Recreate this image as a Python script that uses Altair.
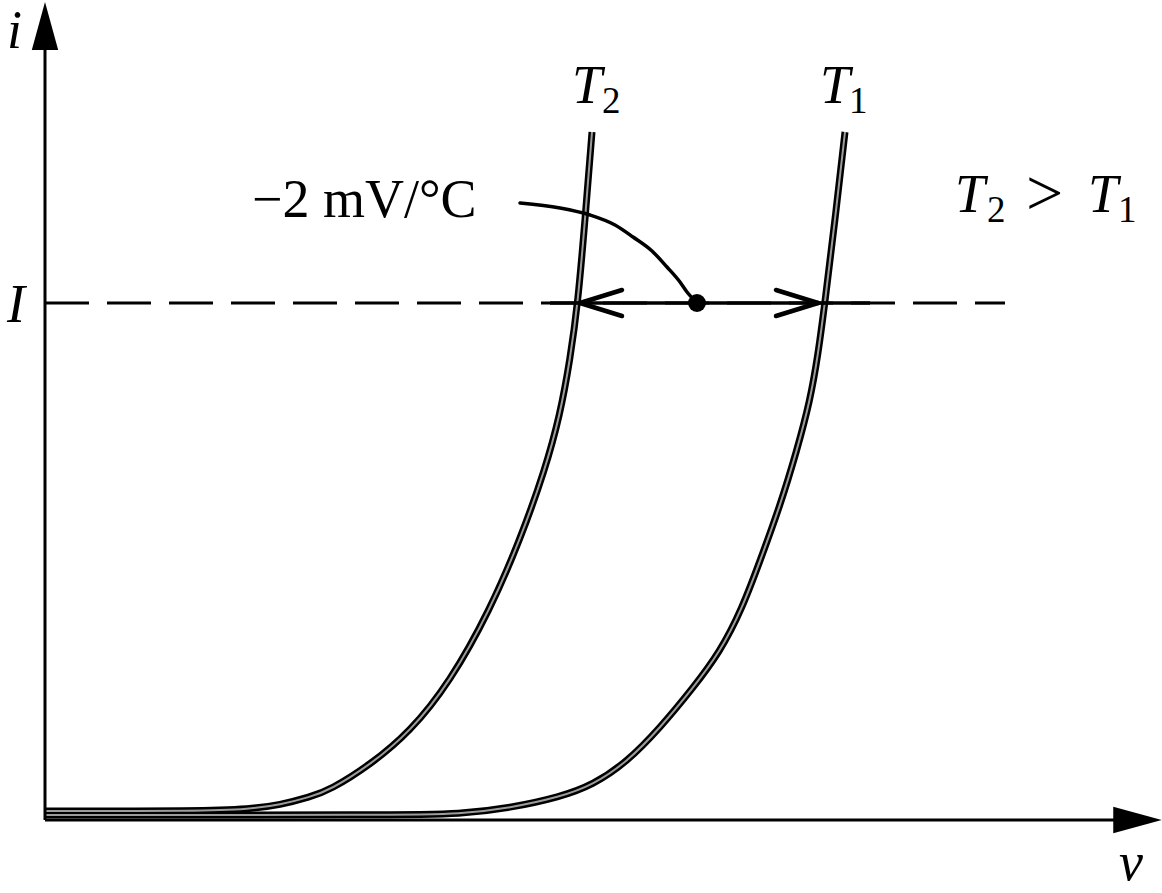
import altair as alt
import pandas as pd

# Diode i-v characteristic at the lower temperature T1 (v, i in plot units)
t1_v = [0.00, 3.55, 4.15, 4.65, 5.15, 5.48, 5.82, 6.15, 6.48, 6.75, 6.97, 7.15, 7.35, 7.52, 7.65, 7.73, 7.80, 7.90, 8.00]
t1_i = [0.05, 0.05, 0.06, 0.12, 0.23, 0.35, 0.58, 0.92, 1.32, 1.68, 2.11, 2.59, 3.14, 3.70, 4.19, 4.65, 5.18, 6.00, 6.88]

# Same diode at the higher temperature T2
t2_v = [0.00, 1.55, 2.05, 2.35, 2.65, 2.85, 3.25, 3.65, 4.05, 4.45, 4.75, 5.00, 5.15, 5.25, 5.33, 5.40, 5.47]
t2_i = [0.09, 0.09, 0.11, 0.15, 0.23, 0.30, 0.55, 0.88, 1.38, 2.10, 2.80, 3.50, 4.05, 4.60, 5.18, 6.00, 6.88]

# Bias current level I and the operating point between the two curves
current_level = 5.17
dash_end = 9.60
solid_span = [5.05, 8.25]
op_point = [6.52, 5.17]
t2_cross = 5.35
t1_cross = 7.73

# Leader from the "-2 mV/°C" note to the operating point
lead_v = [4.75, 5.15, 5.45, 5.70, 5.88, 6.07, 6.22, 6.35, 6.42, 6.52]
lead_i = [6.17, 6.12, 6.05, 5.95, 5.83, 5.69, 5.53, 5.38, 5.28, 5.17]

# Axis extents
v_axis_end = 10.70
i_axis_end = 7.80

FONT = "Liberation Serif"
xs = alt.Scale(domain=[-0.45, 11.17], nice=False, zero=False)
ys = alt.Scale(domain=[-0.73, 8.20], nice=False, zero=False)


def X(f):
    return alt.X(f, type="quantitative", scale=xs, axis=None)


def Y(f):
    return alt.Y(f, type="quantitative", scale=ys, axis=None)


curves = pd.DataFrame(
    [{"curve": "T1", "v": v, "i": i} for v, i in zip(t1_v, t1_i)]
    + [{"curve": "T2", "v": v, "i": i} for v, i in zip(t2_v, t2_i)]
)

axes = pd.DataFrame([
    {"v": 0.0, "v2": v_axis_end, "i": 0.0, "i2": 0.0},
    {"v": 0.0, "v2": 0.0, "i": 0.0, "i2": i_axis_end},
])
axis_lines = alt.Chart(axes).mark_rule(color="black", strokeWidth=3).encode(
    x=X("v"), x2="v2", y=Y("i"), y2="i2"
)

head_right = alt.Chart(pd.DataFrame([
    {"v": 10.925, "i": 0.0},
])).mark_point(
    filled=True, color="black", opacity=1, size=2350,
    shape="M1,0L-1,-0.55L-1,0.55Z",
).encode(x=X("v"), y=Y("i"))

head_up = alt.Chart(pd.DataFrame([
    {"v": 0.0, "i": 7.94},
])).mark_point(
    filled=True, color="black", opacity=1, size=2300,
    shape="M0,-1L0.55,1L-0.55,1Z",
).encode(x=X("v"), y=Y("i"))

curve_outline = alt.Chart(curves).mark_line(
    color="black", strokeWidth=7, interpolate="basis"
).encode(x=X("v"), y=Y("i"), detail="curve:N")

curve_core = alt.Chart(curves).mark_line(
    color="#9c9c9c", strokeWidth=2, interpolate="basis"
).encode(x=X("v"), y=Y("i"), detail="curve:N")

dashed = alt.Chart(pd.DataFrame([
    {"v": 0.0, "v2": dash_end, "i": current_level},
])).mark_rule(color="black", strokeWidth=3, strokeDash=[44, 18]).encode(
    x=X("v"), x2="v2", y=Y("i")
)

solid = alt.Chart(pd.DataFrame([
    {"v": solid_span[0], "v2": solid_span[1], "i": current_level},
])).mark_rule(color="black", strokeWidth=3.5).encode(
    x=X("v"), x2="v2", y=Y("i")
)

# Open chevron arrowheads on the T2 and T1 crossings
chev = pd.DataFrame([
    {"v": t2_cross, "i": current_level, "v2": t2_cross + 0.42, "i2": current_level + 0.13},
    {"v": t2_cross, "i": current_level, "v2": t2_cross + 0.42, "i2": current_level - 0.13},
    {"v": t1_cross, "i": current_level, "v2": t1_cross - 0.42, "i2": current_level + 0.13},
    {"v": t1_cross, "i": current_level, "v2": t1_cross - 0.42, "i2": current_level - 0.13},
])
chevrons = alt.Chart(chev).mark_rule(
    color="black", strokeWidth=4.5, strokeCap="round"
).encode(x=X("v"), x2="v2", y=Y("i"), y2="i2")

leader = alt.Chart(pd.DataFrame({"v": lead_v, "i": lead_i})).mark_line(
    color="black", strokeWidth=3.5, interpolate="monotone", strokeCap="round"
).encode(x=X("v"), y=Y("i"))

dot = alt.Chart(pd.DataFrame([{"v": op_point[0], "i": op_point[1]}])).mark_point(
    filled=True, color="black", opacity=1, size=320, shape="circle"
).encode(x=X("v"), y=Y("i"))

italic_labels = pd.DataFrame([
    {"v": -0.38, "i": 7.72, "t": "i"},
    {"v": -0.38, "i": 4.98, "t": "I"},
    {"v": 10.74, "i": -0.60, "t": "v"},
    {"v": 5.27, "i": 7.17, "t": "T"},
    {"v": 7.75, "i": 7.17, "t": "T"},
    {"v": 9.10, "i": 6.08, "t": "T"},
    {"v": 10.43, "i": 6.08, "t": "T"},
])
italic_text = alt.Chart(italic_labels).mark_text(
    font=FONT, fontStyle="italic", fontSize=54, align="left",
    baseline="alphabetic", color="black",
).encode(x=X("v"), y=Y("i"), text="t:N")

upright_labels = pd.DataFrame([
    {"v": 2.07, "i": 6.03, "t": "\u22122 mV/\u00b0C"},
])
upright_text = alt.Chart(upright_labels).mark_text(
    font=FONT, fontSize=54, align="left", baseline="alphabetic", color="black",
).encode(x=X("v"), y=Y("i"), text="t:N")

relation = alt.Chart(pd.DataFrame([
    {"v": 9.81, "i": 6.05, "t": ">"},
])).mark_text(
    font=FONT, fontSize=66, align="left", baseline="alphabetic", color="black",
).encode(x=X("v"), y=Y("i"), text="t:N")

sub_labels = pd.DataFrame([
    {"v": 5.57, "i": 7.07, "t": "2"},
    {"v": 8.04, "i": 7.07, "t": "1"},
    {"v": 9.42, "i": 5.98, "t": "2"},
    {"v": 10.73, "i": 5.98, "t": "1"},
])
sub_text = alt.Chart(sub_labels).mark_text(
    font=FONT, fontSize=37, align="left", baseline="alphabetic", color="black",
).encode(x=X("v"), y=Y("i"), text="t:N")

chart = alt.layer(
    curve_outline, curve_core, axis_lines, head_right, head_up, dashed, solid,
    chevrons, leader, dot, italic_text, upright_text, relation, sub_text,
).properties(
    width=1162, height=893, autosize=alt.AutoSizeParams(type="none"), padding=0,
    background="white",
).configure_view(stroke=None)

chart.save("out.html", embed_options={"renderer": "svg", "actions": False})
